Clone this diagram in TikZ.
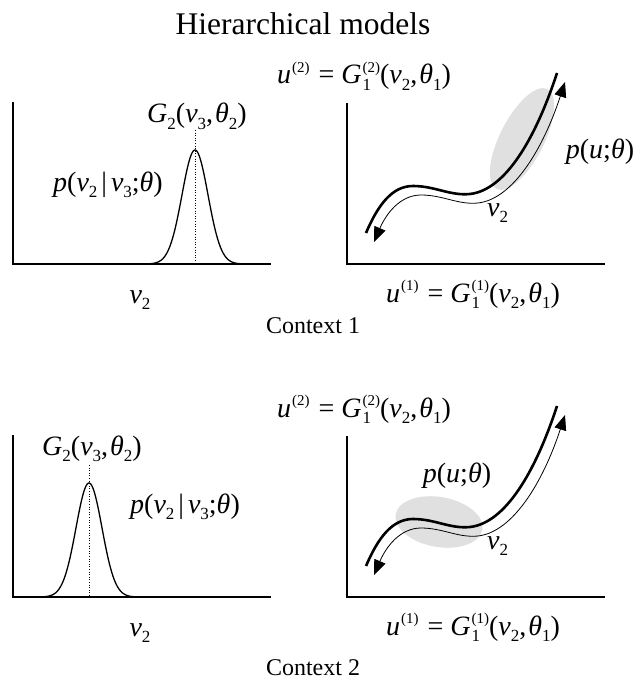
\documentclass[tikz,border=0pt]{standalone}
\usepackage{fontspec}
\setmainfont{Liberation Serif}
\usetikzlibrary{arrows.meta}
\newcommand{\sbs}[1]{\raisebox{-0.22em}{\fontsize{17}{17}\selectfont #1}}
\newcommand{\sps}[1]{\raisebox{0.42em}{\fontsize{15}{15}\selectfont #1}}
\newcommand{\vi}[1]{\textit{v}\sbs{#1}}
\newcommand{\thi}{\textit{θ}}
\newcommand{\Gone}[1]{\textit{G}\kern1pt\rlap{\sbs{1}}\sps{(#1)}}
\newcommand{\ueq}[1]{\textit{u}\kern1pt\sps{(#1)}\kern2pt{} = \Gone{#1}(\vi{2},\kern2pt\thi\sbs{1})}
\newcommand{\Gtwo}{\textit{G}\sbs{2}(\vi{3},\kern2pt\thi\sbs{2})}
\newcommand{\pcond}{\textit{p}(\vi{2}\kern4pt|\kern4pt\vi{3};\thi)}
\newcommand{\pu}{\textit{p}(\textit{u};\thi)}
\tikzset{
  lab/.style={inner sep=0pt, font=\fontsize{28}{32}\selectfont},
  ctx/.style={inner sep=0pt, font=\fontsize{24}{28}\selectfont},
  axis/.style={line width=1.4pt},
  gauss/.style={line width=1.3pt},
  mean/.style={line width=0.6pt, dotted},
  bigcurve/.style={line width=2.6pt},
  thinarrow/.style={line width=0.8pt, {Triangle[length=15pt,width=12pt]}-{Triangle[length=15pt,width=12pt]}},
  blob/.style={fill=black!12}
}
\begin{document}
\begin{tikzpicture}[x=1pt,y=-1pt]
\useasboundingbox (0,0) rectangle (638,679);
% title
\node[inner sep=0pt, anchor=base, font=\fontsize{31.5}{36}\selectfont] (title) at (303,35) {Hierarchical models};
% density ellipses
\fill[blob, rotate around={63:(522,139)}] (522,139) ellipse (56 and 22);
\fill[blob, rotate around={-10:(439,522)}] (439,522) ellipse (44 and 25);
% shared panel parts
\foreach \dy/\n in {0/1,333/2}{
  \begin{scope}[yshift=-\dy pt]
    \coordinate (ltop\n) at (13,102);
    \coordinate (lo\n) at (13,264);
    \coordinate (lend\n) at (271,264);
    \draw[axis] (ltop\n) -- (lo\n) -- (lend\n);
    \coordinate (rtop\n) at (347,103);
    \coordinate (ro\n) at (347,264);
    \coordinate (rend\n) at (605,264);
    \draw[axis] (rtop\n) -- (ro\n) -- (rend\n);
    \draw[bigcurve] (366,233) .. controls (378,205) and (392,186) .. (413,186)
       .. controls (435,186) and (450,196) .. (470,194)
       .. controls (505,190) and (535,140) .. (557,73);
    \draw[thinarrow, shift={(8,9)}] (366,233) .. controls (378,205) and (392,186) .. (413,186)
       .. controls (435,186) and (450,196) .. (470,194)
       .. controls (505,190) and (535,140) .. (557,73);
    \node[lab, anchor=base] (utop\n) at (364,84) {\ueq{2}};
    \node[lab, anchor=base] (ubot\n) at (473,302) {\ueq{1}};
    \node[lab, anchor=base] (vax\n) at (140,303) {\vi{2}};
    \node[lab, anchor=base west] (vcur\n) at (487,216) {\vi{2}};
  \end{scope}
}
% context 1 specifics
\draw[gauss] plot[domain=-52:52, samples=90] ({195+\x},{264-114*exp(-(\x/13)*(\x/13)/2)});
\draw[mean] (195,130) -- (195,264);
\node[lab, anchor=base] (g1) at (197,123) {\Gtwo};
\node[lab, anchor=base] (pc1) at (108,191) {\pcond};
\node[lab, anchor=base] (pu1) at (600,158) {\pu};
\node[ctx, anchor=base] (c1) at (313,333) {Context 1};
% context 2 specifics
\draw[gauss] plot[domain=-52:52, samples=90] ({89+\x},{597-114*exp(-(\x/13)*(\x/13)/2)});
\draw[mean] (89,465) -- (89,597);
\node[lab, anchor=base] (g2) at (92,455) {\Gtwo};
\node[lab, anchor=base] (pc2) at (185,513) {\pcond};
\node[lab, anchor=base] (pu2) at (457,482) {\pu};
\node[ctx, anchor=base] (c2) at (313,675) {Context 2};
\end{tikzpicture}
\end{document}
